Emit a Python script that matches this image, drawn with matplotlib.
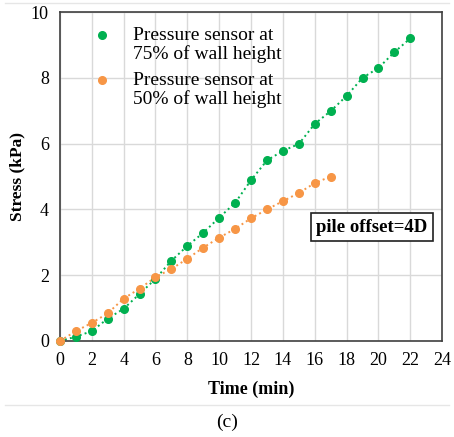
import matplotlib
matplotlib.use('Agg')
import matplotlib.pyplot as plt
from matplotlib.lines import Line2D

plt.rcParams['font.family'] = ['Liberation Serif', 'DejaVu Serif']

# data
t75 = [0, 1, 2, 3, 4, 5, 6, 7, 8, 9, 10, 11, 12, 13, 14, 15, 16, 17, 18, 19, 20, 21, 22]
s75 = [0, 0.13, 0.3, 0.68, 0.98, 1.43, 1.89, 2.44, 2.89, 3.29, 3.75, 4.2, 4.89,
       5.49, 5.78, 5.99, 6.6, 6.99, 7.45, 8.0, 8.3, 8.78, 9.2]
t50 = [0, 1, 2, 3, 4, 5, 6, 7, 8, 9, 10, 11, 12, 13, 14, 15, 16, 17]
s50 = [0, 0.3, 0.55, 0.84, 1.29, 1.59, 1.94, 2.19, 2.5, 2.84, 3.14, 3.41, 3.73,
       4.0, 4.25, 4.5, 4.8, 5.0]
labels = ['Pressure sensor at\n75% of wall height',
          'Pressure sensor at\n50% of wall height']

green = '#00B050'
orange = '#F79646'

fig = plt.figure(figsize=(4.54, 4.37), dpi=100)
ax = fig.add_axes([0.132, 0.2197, 0.842, 0.7528])

ax.plot(t75, s75, linestyle=':', color=green, linewidth=1.4, zorder=2)
ax.plot(t50, s50, linestyle=':', color=orange, linewidth=1.4, zorder=2)
ax.plot(t75, s75, 'o', color=green, markersize=5.5, linestyle='none', zorder=3,
        clip_on=False)
ax.plot(t50, s50, 'o', color=orange, markersize=5.5, linestyle='none', zorder=3,
        clip_on=False)

ax.set_xlim(0, 24)
ax.set_ylim(0, 10)
ax.set_xticks(range(0, 25, 2))
ax.set_yticks(range(0, 11, 2))
ax.grid(True, color='#d9d9d9', linewidth=1.0)
ax.set_axisbelow(True)
ax.tick_params(length=0, labelsize=13, pad=8)
for sp in ax.spines.values():
    sp.set_color('#404040')
    sp.set_linewidth(1.2)

ax.set_xlabel('Time (min)', fontsize=13, fontweight='bold', labelpad=8)
ax.set_ylabel('Stress (kPa)', fontsize=12.5, fontweight='bold', labelpad=4)

# legend drawn by hand: marker next to first line of each label
for i, (lab, col) in enumerate(zip(labels, [green, orange])):
    ytop = 0.93 - i * 0.137
    ax.plot([0.111], [ytop], 'o', color=col, markersize=5.5,
            transform=ax.transAxes)
    ax.text(0.191, ytop + 0.025, lab, transform=ax.transAxes, fontsize=14,
            va='top', ha='left', linespacing=1.1)

ax.text(19.6, 3.46, 'pile offset=4D', fontsize=13.5, fontweight='bold',
        ha='center', va='center',
        bbox=dict(boxstyle='square,pad=0.3', facecolor='white',
                  edgecolor='#202020', linewidth=1.2))

fig.text(0.5, 0.034, '(c)', ha='center', va='center', fontsize=14)
fig.add_artist(Line2D([0.01, 0.99], [0.073, 0.073], transform=fig.transFigure,
                      color='#e6e6e6', linewidth=1))
fig.add_artist(Line2D([0.01, 0.99], [0.993, 0.993], transform=fig.transFigure,
                      color='#e6e6e6', linewidth=1))

fig.savefig('out.png', dpi=100)
